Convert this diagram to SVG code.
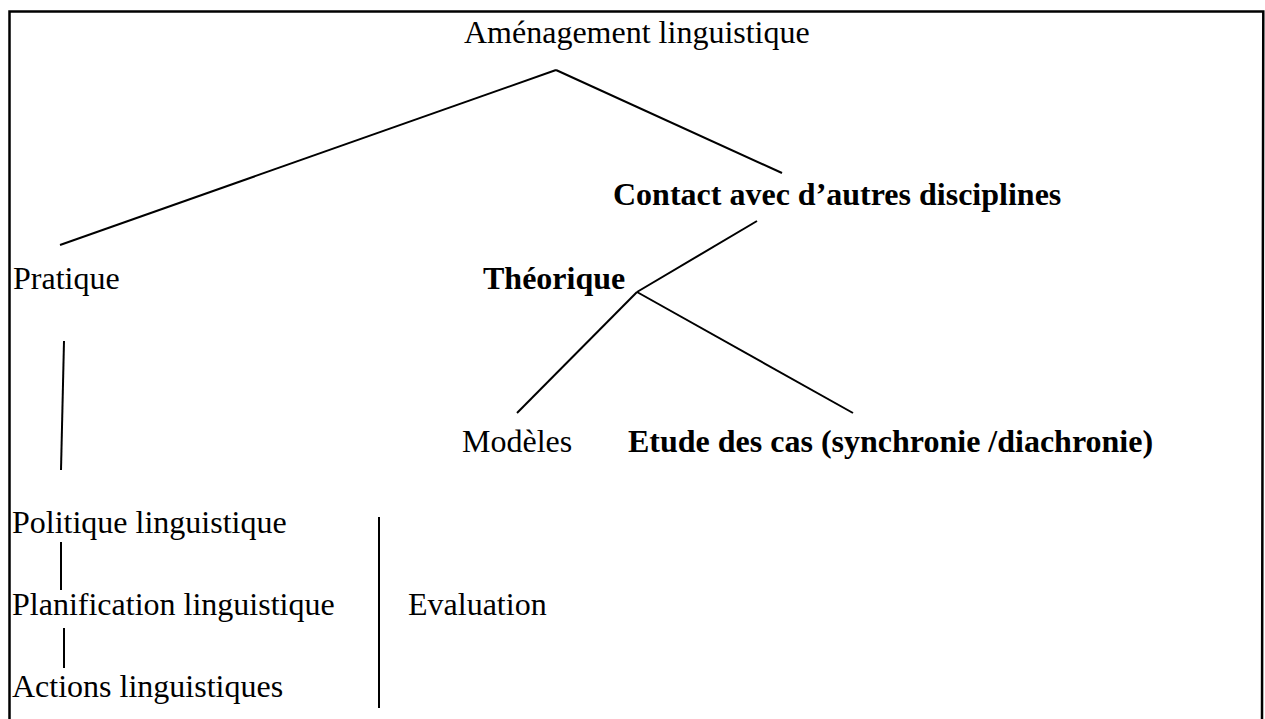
<svg xmlns="http://www.w3.org/2000/svg" width="1265" height="719" viewBox="0 0 1265 719">
<style>
.t{font-family:"Liberation Serif","Times New Roman",serif;font-size:32px;fill:#000}
.b{font-weight:bold}
.c line{stroke:#000;stroke-width:2;stroke-linecap:butt}
.frame{fill:none;stroke:#000;stroke-width:2.5}
</style>
<rect width="1265" height="719" fill="#fff"/>
<path class="frame" d="M9.5,725 V11.5 H1263.3 L1262,725"/>
<g id="n-amenagement"><text class="t" x="464" y="43">Aménagement linguistique</text></g>
<g id="n-contact"><text class="t b" x="613" y="205">Contact avec d’autres disciplines</text></g>
<g id="n-pratique"><text class="t" x="13" y="289">Pratique</text></g>
<g id="n-theorique"><text class="t b" x="483" y="289">Théorique</text></g>
<g id="n-modeles"><text class="t" x="462" y="452">Modèles</text></g>
<g id="n-etude"><text class="t b" x="628" y="452">Etude des cas (synchronie /diachronie)</text></g>
<g id="n-politique"><text class="t" x="12" y="533">Politique linguistique</text></g>
<g id="n-planification"><text class="t" x="12" y="615">Planification linguistique</text></g>
<g id="n-actions"><text class="t" x="12" y="697">Actions linguistiques</text></g>
<g id="n-evaluation"><text class="t" x="408" y="615">Evaluation</text></g>
<g id="connectors" class="c">
<line x1="556" y1="70" x2="60" y2="245"/>
<line x1="556" y1="70" x2="782" y2="173"/>
<line x1="757" y1="221" x2="637" y2="292"/>
<line x1="637" y1="292" x2="517" y2="413"/>
<line x1="637" y1="292" x2="853" y2="413"/>
<line x1="64" y1="341" x2="61" y2="470"/>
<line x1="61" y1="542" x2="61" y2="590"/>
<line x1="64" y1="628" x2="64" y2="668"/>
<line x1="379" y1="517" x2="379" y2="708"/>
</g>
</svg>
